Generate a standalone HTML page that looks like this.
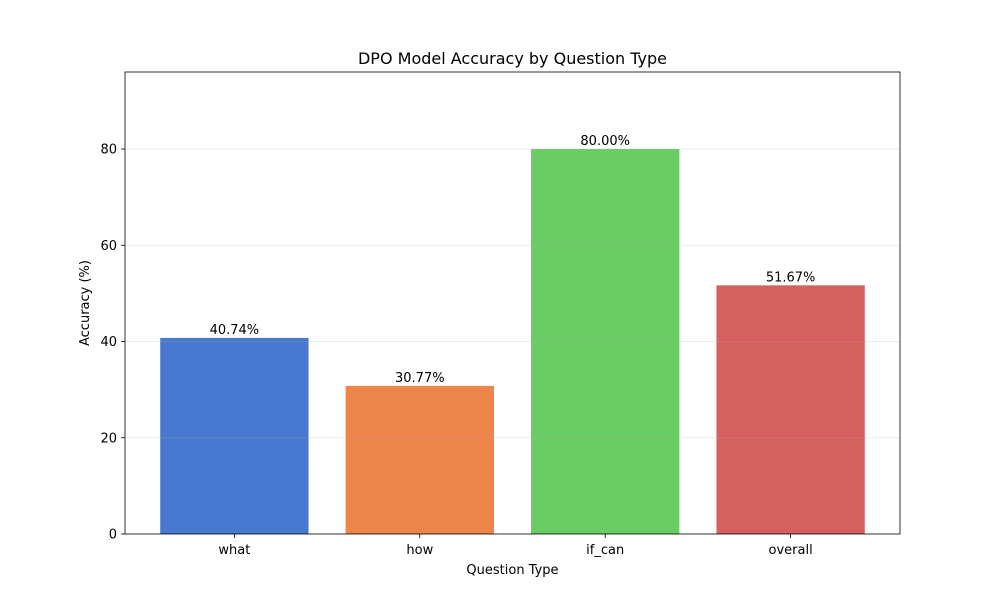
<!DOCTYPE html>
<html><head><meta charset="utf-8"><style>
html,body{margin:0;padding:0;background:#fff;}
text{font-family:"DejaVu Sans","Liberation Sans",sans-serif;}
</style></head><body>
<svg id="chart" width="1000" height="600" xmlns="http://www.w3.org/2000/svg"></svg>
<script>
const categories = ["what","how","if_can","overall"];
const accuracyValues = [40.74, 30.77, 80.00, 51.67];
const valueLabels = ["40.74%","30.77%","80.00%","51.67%"];
const yTicks = [0,20,40,60,80];
const barColors = ["#4878d0","#ee854a","#6acc64","#d65f5f"];

const L=125,R=900,T=72,B=534, xmin=-0.59,xmax=3.59,ymin=0,ymax=96;
const sx=v=>L+(v-xmin)/(xmax-xmin)*(R-L);
const sy=v=>B-(v-ymin)/(ymax-ymin)*(B-T);
const svg=document.getElementById('chart');
const NS="http://www.w3.org/2000/svg";
function mk(tag,attrs,txt){const e=document.createElementNS(NS,tag);for(const k in attrs)e.setAttribute(k,attrs[k]);if(txt!==undefined)e.textContent=txt;svg.appendChild(e);return e;}

categories.forEach((c,i)=>{
  const x0=sx(i-0.4),x1=sx(i+0.4),y=sy(accuracyValues[i]);
  const r=mk('rect',{x:x0,y:y,width:x1-x0,height:B-y,fill:barColors[i]});
  
  
  const t=mk('text',{x:sx(i),y:y-4,'text-anchor':'middle','font-size':13,fill:'#000'},valueLabels[i]);
  
  
  const tk=mk('line',{x1:sx(i),x2:sx(i),y1:B,y2:B+4,stroke:'#000','stroke-width':0.8});
  
  
  const tl=mk('text',{x:sx(i),y:B+20,'text-anchor':'middle','font-size':13,fill:'#000'},c);
  
  
});
yTicks.forEach(v=>{
  const y=sy(v);
  if(v>0){const g=mk('line',{x1:L,x2:R,y1:y,y2:y,stroke:'#b0b0b0','stroke-width':0.8,'stroke-opacity':0.3});
  
  }
  const tk=mk('line',{x1:L-4,x2:L,y1:y,y2:y,stroke:'#000','stroke-width':0.8});
  
  
  const tl=mk('text',{x:L-8,y:y+4.5,'text-anchor':'end','font-size':13,fill:'#000'},String(v));
  
  
});
const fr=mk('rect',{x:L,y:T,width:R-L,height:B-T,fill:'none',stroke:'#000','stroke-width':0.8});


const ti=mk('text',{x:(L+R)/2,y:64,'text-anchor':'middle','font-size':16,fill:'#000'},'DPO Model Accuracy by Question Type');


const xt=mk('text',{x:(L+R)/2,y:574,'text-anchor':'middle','font-size':13,fill:'#000'},'Question Type');


const yt=mk('text',{x:89,y:(T+B)/2,'text-anchor':'middle','font-size':13,fill:'#000',transform:`rotate(-90 89 ${(T+B)/2})`},'Accuracy (%)');


</script>
</body></html>
